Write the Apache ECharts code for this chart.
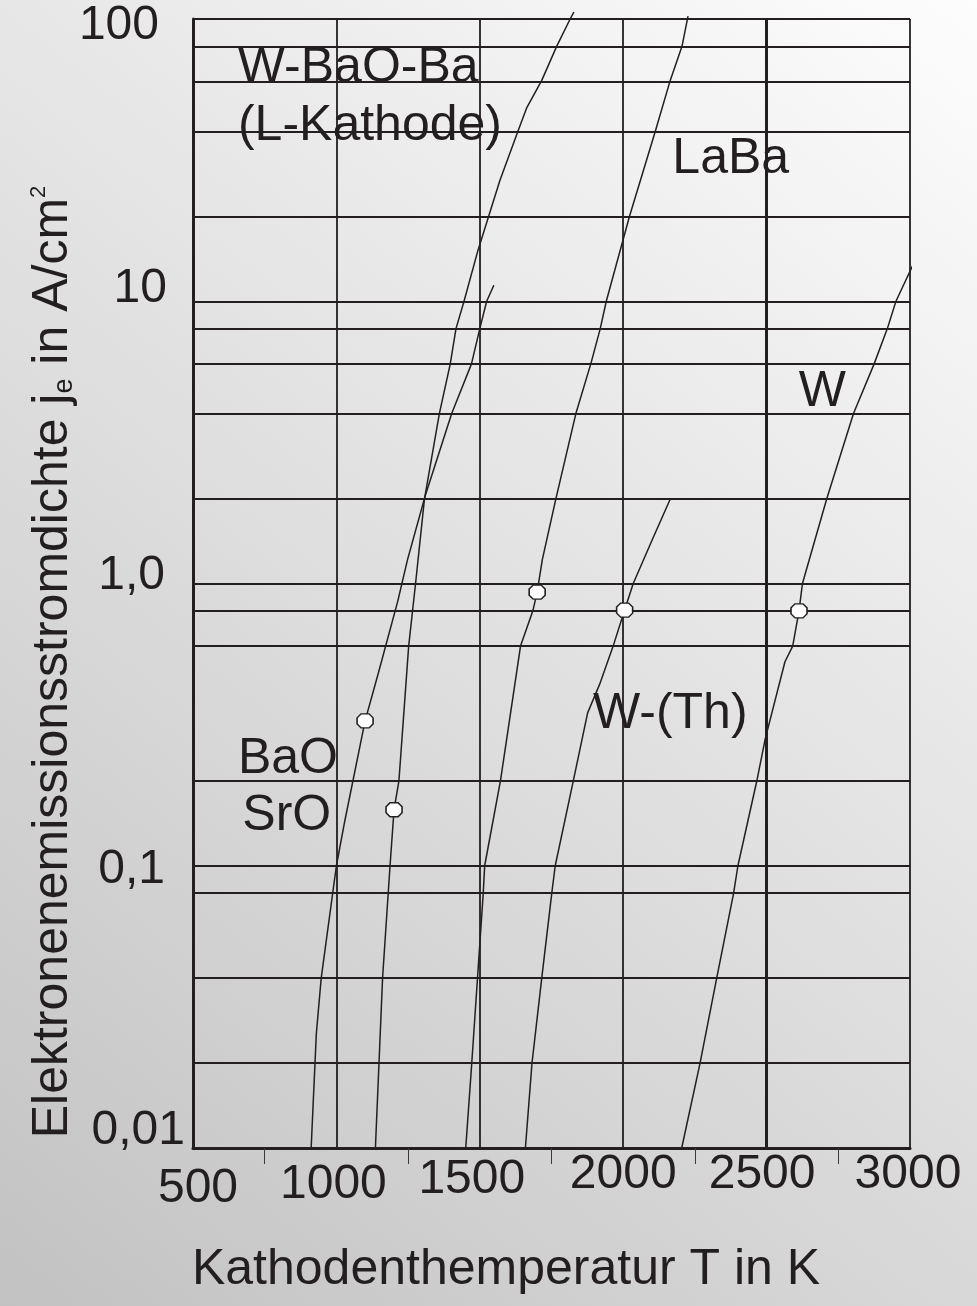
<!DOCTYPE html>
<html>
<head>
<meta charset="utf-8">
<script src="https://cdn.jsdelivr.net/npm/echarts@6/dist/echarts.min.js"></script>
<style>
html, body { margin: 0; padding: 0; }
#chart { width: 977px; height: 1306px; background: linear-gradient(218.5deg, #fdfdfd 0%, #c2c2c2 100%); }
</style>
</head>
<body>
<div id="chart"></div>
<script>
// ---------- data ----------
const xTickValues = [500, 1000, 1500, 2000, 2500, 3000];
const xTickLabels = ['500', '1000', '1500', '2000', '2500', '3000'];
const yTickValues = [0.01, 0.1, 1, 10, 100];
const yTickLabels = ['0,01', '0,1', '1,0', '10', '100'];
const yMinorLines = [80, 60, 40, 20, 8, 6, 4, 2, 0.8, 0.6, 0.2, 0.08, 0.04, 0.02];
const xBoldLine = [2500];

// Temperature T [K], current density j [A/cm^2]
const curveBaOSrO = [[912,0.01],[930,0.0254],[947,0.040],[1000,0.100],[1028,0.142],[1100,0.326],[1148,0.489],[1214,0.866],[1248,1.215],[1310,2.05],[1402,4.0],[1471,6.0],[1500,8.0],[1524,10.0],[1549,11.4]];
const curveLKathode = [[1136,0.01],[1161,0.04],[1187,0.1],[1201,0.158],[1218,0.2],[1252,0.6],[1276,1.0],[1307,1.99],[1359,4.0],[1397,6.0],[1417,8.0],[1445,10.0],[1494,15.2],[1570,26.8],[1633,40],[1663,48.3],[1716,60.6],[1768,80],[1815,100],[1828,105.7]];
const curveLaBa = [[1451,0.01],[1472,0.02],[1492,0.04],[1512,0.08],[1517,0.1],[1572,0.2],[1642,0.6],[1685,0.8],[1700,0.932],[1718,1.215],[1765,1.99],[1835,4],[1887,6],[1920,8],[1941,10],[2022,20],[2112,40],[2164,60.6],[2205,80],[2226,102.3]];
const curveWTh = [[1659,0.01],[1682,0.02],[1716,0.04],[1751,0.08],[1763,0.1],[1826,0.2],[1876,0.348],[1918,0.44],[1965,0.6],[2005,0.805],[2035,1.0],[2102,1.435],[2163,1.98]];
const curveW = [[2204,0.01],[2268,0.02],[2326,0.04],[2385,0.08],[2400,0.1],[2466,0.2],[2495,0.281],[2564,0.528],[2591,0.6],[2613,0.8],[2625,1.0],[2710,2.0],[2803,4],[2875,6],[2921,8],[2951,10],[3017,13.9]];
const operatingPoints = [[1100,0.326],[1201,0.158],[1700,0.932],[2005,0.805],[2613,0.8]];

const labelTexts = ['W-BaO-Ba', '(L-Kathode)', 'LaBa', 'W', 'W-(Th)', 'BaO', 'SrO'];
const labelT = [1076, 1117, 2375, 2694, 2164, 831, 827];
const labelJ = [67.0, 41.8, 31.8, 4.78, 0.343, 0.238, 0.150];

const xTitle = 'Kathodenthemperatur T in K';
const yTitleMain = 'Elektronenemissionsstromdichte j';
const yTitleSub = 'e';
const yTitleRest = ' in A/cm';
const yTitleSup = '2';

// ---------- styling ----------
const FONT = '"Liberation Sans", Arial, sans-serif';
const INK = '#231f20';
const tk = (pad) => ({ fontSize: 48, fontFamily: FONT, color: INK, padding: pad });

const xRich = {
  x0: tk([14, 0, 0, 10]), x1: tk([10, 6, 0, 0]), x2: tk([5, 16, 0, 0]),
  x3: tk([0, 0, 0, 0]), x4: tk([0, 9, 0, 0]), x5: tk([0, 4, 0, 0])
};
const yRich = {
  y0: tk([0, 0, 34, 0]), y1: tk([8, 20, 0, 0]), y2: tk([0, 20, 16, 0]),
  y3: tk([0, 18, 24, 0]), y4: tk([14, 26, 0, 0])
};

const curveStyle = { color: INK, width: 1.5 };
function curve(name, data) {
  return {
    name, type: 'line', data, showSymbol: false, symbol: 'none', clip: false,
    lineStyle: curveStyle, itemStyle: { color: INK }, z: 3, silent: true
  };
}

const chart = echarts.init(document.getElementById('chart'), null, { renderer: 'canvas' });
const option = {
  backgroundColor: 'transparent',
  animation: false,
  grid: { left: 193, right: 67, top: 19, bottom: 158, containLabel: false, outerBoundsMode: 'none' },
  xAxis: {
    type: 'value', min: 500, max: 3000, interval: 500,
    name: xTitle, nameLocation: 'middle', nameGap: 97, nameMoveOverlap: false,
    nameTextStyle: { fontFamily: FONT, fontSize: 50, color: INK, padding: [0, 91, 0, 0] },
    axisLine: { show: true, onZero: false, lineStyle: { color: INK, width: 3 } },
    axisTick: { show: false },
    minorTick: { show: true, splitNumber: 2, length: 16, lineStyle: { color: '#3a3a3a', width: 1 } },
    minorSplitLine: { show: false },
    splitLine: { show: true, lineStyle: { color: INK, width: 1.8 } },
    axisLabel: {
      show: true, margin: 3, showMinLabel: true, showMaxLabel: true,
      formatter: (v) => { const i = xTickValues.indexOf(Math.round(v)); return i < 0 ? '' : '{x' + i + '|' + xTickLabels[i] + '}'; },
      rich: xRich
    }
  },
  yAxis: {
    type: 'log', logBase: 10, min: 0.01, max: 100,
    name: '{m|' + yTitleMain + '}{s|' + yTitleSub + '}{m|' + yTitleRest + '}{p|' + yTitleSup + '}',
    nameLocation: 'middle', nameGap: 115, nameMoveOverlap: false,
    nameTextStyle: {
      fontFamily: FONT, fontSize: 50, color: INK, padding: [0, 157, 0, 0],
      rich: {
        m: { fontFamily: FONT, fontSize: 50, color: INK },
        s: { fontFamily: FONT, fontSize: 27, color: INK, verticalAlign: 'bottom' },
        p: { fontFamily: FONT, fontSize: 22, color: INK, verticalAlign: 'top' }
      }
    },
    axisLine: { show: true, onZero: false, lineStyle: { color: INK, width: 3 } },
    axisTick: { show: false },
    splitLine: { show: true, lineStyle: { color: INK, width: 1.8 } },
    axisLabel: {
      show: true, margin: 8, showMinLabel: true, showMaxLabel: true,
      formatter: (v) => { const i = Math.round(Math.log10(v)) + 2; return (i < 0 || i >= yTickLabels.length) ? '' : '{y' + i + '|' + yTickLabels[i] + '}'; },
      rich: yRich
    }
  },
  series: [
    {
      name: 'grid-extra', type: 'line', data: [], z: 1, silent: true,
      markLine: {
        silent: true, symbol: 'none', animation: false,
        label: { show: false },
        lineStyle: { color: INK, width: 1.8, type: 'solid' },
        data: yMinorLines.map(v => ({ yAxis: v }))
          .concat(xBoldLine.map(v => ({ xAxis: v, lineStyle: { color: INK, width: 3, type: 'solid' } })))
      }
    },
    {
      name: 'labels', type: 'scatter', z: -1, silent: true,
      symbolSize: 1, itemStyle: { color: 'rgba(0,0,0,0)' },
      data: labelTexts.map((t, i) => ({ name: t, value: [labelT[i], labelJ[i]] })),
      label: {
        show: true, position: 'inside', formatter: (p) => p.name,
        fontFamily: FONT, fontSize: 50, color: INK, opacity: 1,
        textBorderWidth: 0, textBorderColor: 'transparent', textShadowBlur: 0
      }
    },
    curve('BaO / SrO', curveBaOSrO),
    curve('W-BaO-Ba (L-Kathode)', curveLKathode),
    curve('LaBa', curveLaBa),
    curve('W-(Th)', curveWTh),
    curve('W', curveW),
    {
      name: 'Arbeitspunkte', type: 'scatter', z: 5, silent: true,
      data: operatingPoints,
      symbol: 'path://M4,0L12,0L16,4L16,10L12,14L4,14L0,10L0,4Z',
      symbolSize: [16, 14],
      itemStyle: { color: '#ffffff', borderColor: INK, borderWidth: 1.5, opacity: 1 }
    }
  ]
};
chart.setOption(option);
</script>
</body>
</html>
